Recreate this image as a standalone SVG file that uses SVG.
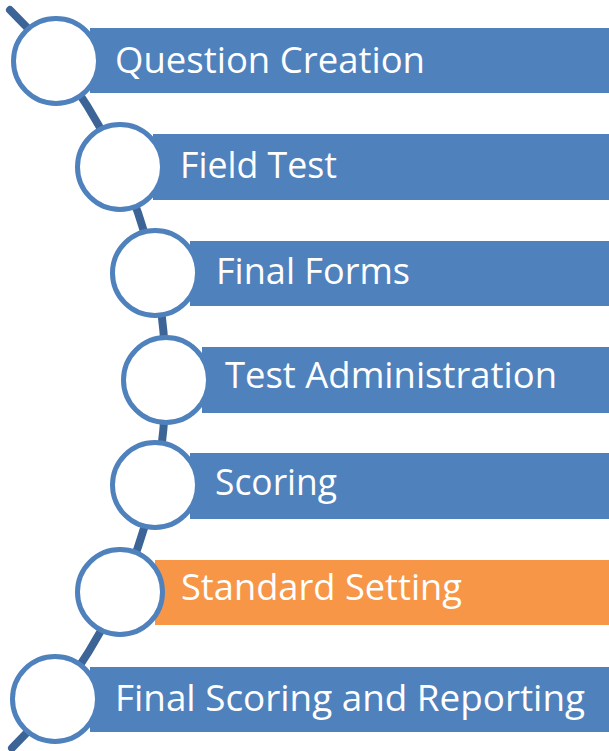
<svg xmlns="http://www.w3.org/2000/svg" width="609" height="751" viewBox="0 0 609 751">
<style>
.bar{fill:#4F81BD}
.bar.hl{fill:#F79646}
.ring{fill:#FFFFFF;stroke:#4F81BD;stroke-width:5}
.lbl{font-family:"Open Sans","Liberation Sans",sans-serif;font-size:36px;fill:#FFFFFF}
.spine{fill:none;stroke:#3C6496;stroke-width:8;stroke-linecap:round}
</style>
<rect width="609" height="751" fill="#FFFFFF"/>
<g id="connectors">
<path class="spine" d="M 10 10 A 517.5 517.5 0 0 1 12 748"/>
</g>
<g id="node1">
<rect class="bar" x="90" y="28" width="519" height="65"/>
<circle class="ring" cx="56" cy="61" r="42.5"/>
<text class="lbl" x="115" y="73" textLength="310" lengthAdjust="spacingAndGlyphs">Question Creation</text>
</g>
<g id="node2">
<rect class="bar" x="153" y="134" width="456" height="66"/>
<circle class="ring" cx="120" cy="167" r="42.5"/>
<text class="lbl" x="180" y="178" textLength="157" lengthAdjust="spacingAndGlyphs">Field Test</text>
</g>
<g id="node3">
<rect class="bar" x="190" y="241" width="419" height="65"/>
<circle class="ring" cx="155" cy="273" r="42.5"/>
<text class="lbl" x="216" y="284" textLength="194" lengthAdjust="spacingAndGlyphs">Final Forms</text>
</g>
<g id="node4">
<rect class="bar" x="202" y="347" width="407" height="66"/>
<circle class="ring" cx="166" cy="380" r="42.5"/>
<text class="lbl" x="225" y="388" textLength="332" lengthAdjust="spacingAndGlyphs">Test Administration</text>
</g>
<g id="node5">
<rect class="bar" x="190" y="453" width="419" height="66"/>
<circle class="ring" cx="155" cy="485" r="42.5"/>
<text class="lbl" x="215" y="495" textLength="122" lengthAdjust="spacingAndGlyphs">Scoring</text>
</g>
<g id="node6">
<rect class="bar hl" x="155" y="560" width="454" height="65"/>
<circle class="ring" cx="120" cy="592" r="42.5"/>
<text class="lbl" x="181" y="600" textLength="281" lengthAdjust="spacingAndGlyphs">Standard Setting</text>
</g>
<g id="node7">
<rect class="bar" x="90" y="667" width="519" height="65"/>
<circle class="ring" cx="55" cy="699" r="42.5"/>
<text class="lbl" x="115" y="711" textLength="470" lengthAdjust="spacingAndGlyphs">Final Scoring and Reporting</text>
</g>
</svg>
